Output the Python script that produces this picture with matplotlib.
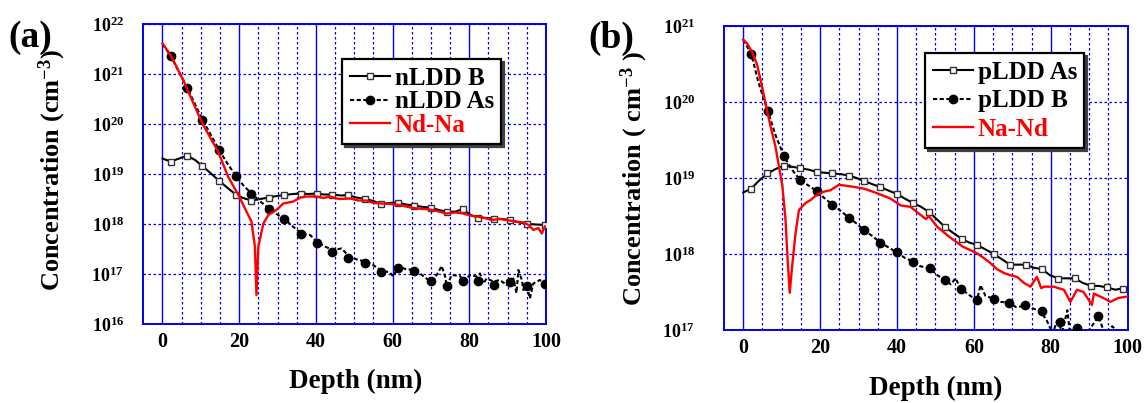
import numpy as np
import matplotlib
matplotlib.use("Agg")
import matplotlib.pyplot as plt
from matplotlib.lines import Line2D
from matplotlib.ticker import FixedLocator, FuncFormatter, NullLocator

# ---------------- data (log10 of concentration in cm^-3, depth in nm) ----------------
# Panel (a)
a_mk_depth = [2.1, 6.4, 10.4, 14.7, 19.1, 23.2, 27.8, 31.7, 36.2, 40.2, 44.3, 48.4,
              52.9, 56.9, 61.3, 65.6, 69.9, 74.3, 78.3, 82.3, 86.4, 90.6, 95.1, 99.7]
a_nB_mk_log = [19.25, 19.37, 19.16, 18.87, 18.59, 18.47, 18.53, 18.58, 18.61, 18.61, 18.59, 18.58,
               18.50, 18.40, 18.43, 18.37, 18.33, 18.24, 18.30, 18.13, 18.11, 18.08, 18.00, 17.98]
a_nAs_mk_log = [21.37, 20.73, 20.09, 19.49, 18.97, 18.61, 18.31, 18.11, 17.81, 17.63, 17.45, 17.33,
                17.23, 17.05, 17.13, 17.07, 16.85, 16.77, 16.85, 16.86, 16.79, 16.84, 16.76, 16.80]

a_nB_depth = [0, 2.1, 4, 6.4, 8.5, 10.4, 12.5, 14.7, 17, 19.1, 21, 23.2, 25.5, 27.8, 29.7, 31.7,
              34, 36.2, 38, 40.2, 42, 44.3, 46.5, 48.4, 50.5, 52.9, 55, 56.9, 59, 61.3, 63.5,
              65.6, 68, 69.9, 72, 74.3, 76.5, 78.3, 80.3, 82.3, 84.5, 86.4, 88.5, 90.6, 93,
              95.1, 97.5, 99.7]
a_nB_log = [19.31, 19.25, 19.30, 19.37, 19.28, 19.16, 19.02, 18.87, 18.72, 18.59, 18.52, 18.47,
            18.50, 18.53, 18.56, 18.58, 18.60, 18.61, 18.60, 18.61, 18.59, 18.59, 18.57, 18.58,
            18.53, 18.50, 18.46, 18.40, 18.42, 18.43, 18.39, 18.37, 18.34, 18.33, 18.28, 18.24,
            18.25, 18.30, 18.18, 18.13, 18.12, 18.11, 18.10, 18.08, 18.03, 18.00, 17.99, 17.98]

a_nAs_depth = [0, 2.1, 6.4, 10.4, 14.7, 17, 19.1, 21, 23.2, 25.5, 27.8, 29.7, 31.7, 34, 36.2,
               38.5, 40.2, 42.3, 44.5, 46.7, 48.7, 51.0, 53.2, 54.9, 57.1, 59.3, 60.2, 61.5,
               63.7, 65.9, 67.6, 69.9, 71.5, 72.8, 73.7, 74.1, 75.4, 77.6, 78.4, 80.2, 81.9,
               82.8, 83.7, 84.5, 86.3, 88.0, 89.7, 91.5, 92.3, 92.8, 93.7, 94.1, 95.1, 95.8,
               96.7, 98.4, 99.7]
a_nAs_log = [21.60, 21.37, 20.73, 20.09, 19.49, 19.20, 18.97, 18.78, 18.61, 18.45, 18.31, 18.20,
             18.11, 17.95, 17.81, 17.78, 17.65, 17.55, 17.48, 17.51, 17.35, 17.28, 17.25, 17.18,
             17.07, 17.03, 16.95, 17.15, 17.09, 17.09, 16.98, 16.85, 16.98, 17.16, 16.95, 16.75,
             16.98, 16.96, 16.85, 16.98, 16.95, 17.01, 16.81, 16.91, 16.85, 16.88, 16.78, 16.91,
             16.62, 17.08, 16.88, 16.68, 16.76, 16.51, 16.81, 16.88, 16.80]

a_net_depth = [0, 2.1, 5.4, 10.4, 14.5, 17.1, 20.0, 21.7, 23.2, 24.1, 24.5, 25.0, 26.3, 27.6,
               29.7, 31.5, 34.1, 36.0, 37.6, 40.2, 42, 43.7, 46, 48.9, 51, 53.2, 55, 57.1, 59.5,
               61.9, 64, 66.3, 68.5, 70.6, 72.5, 74.1, 76.5, 78.4, 80.2, 81.9, 84, 85.8, 88,
               89.7, 92, 94.1, 95.5, 96.7, 98, 98.9, 99.7]
a_net_log = [21.61, 21.38, 20.88, 20.01, 19.45, 18.95, 18.55, 18.28, 18.05, 17.55, 16.58, 17.55,
             18.01, 18.18, 18.28, 18.41, 18.45, 18.53, 18.55, 18.55, 18.52, 18.55, 18.50, 18.51,
             18.47, 18.47, 18.42, 18.41, 18.40, 18.38, 18.34, 18.31, 18.30, 18.28, 18.24, 18.21,
             18.23, 18.21, 18.17, 18.15, 18.12, 18.08, 18.10, 18.08, 18.05, 18.03, 17.98, 17.88,
             17.92, 17.81, 17.95]

# Panel (b)
b_pAs_mk_depth = [2.1, 6.3, 10.5, 14.7, 19.1, 23.2, 27.6, 31.5, 35.7, 40.0, 44.2, 48.4,
                  52.6, 56.8, 60.8, 65.2, 69.4, 73.6, 77.7, 81.9, 86.2, 90.5, 94.6, 98.9]
b_pAs_mk_log = [18.86, 19.06, 19.16, 19.13, 19.08, 19.06, 19.03, 18.96, 18.88, 18.79, 18.67, 18.55,
                18.35, 18.20, 18.12, 18.00, 17.86, 17.86, 17.80, 17.67, 17.68, 17.58, 17.56, 17.54]
b_pB_mk_depth = [2.1, 6.4, 10.6, 14.7, 19.1, 23.2, 27.5, 31.5, 35.7, 40.0, 44.2, 48.5,
                 52.6, 56.7, 60.8, 65.2, 69.1, 73.4, 77.8, 82.3, 86.8, 92.4]
b_pB_mk_log = [20.63, 19.88, 19.29, 18.98, 18.83, 18.65, 18.48, 18.31, 18.15, 18.02, 17.90, 17.81,
               17.66, 17.54, 17.39, 17.41, 17.36, 17.33, 17.25, 17.11, 17.02, 17.18]

b_pAs_depth = [0, 2.1, 4, 6.3, 8.5, 10.5, 12.5, 14.7, 17, 19.1, 21, 23.2, 25.5, 27.6, 29.5,
               31.5, 33.5, 35.7, 38, 40.0, 42, 44.2, 46.3, 48.4, 50.5, 52.6, 54.8, 56.8, 58.8,
               60.8, 63, 65.2, 67.3, 69.4, 71.5, 73.6, 75.5, 77.7, 79.8, 81.9, 84, 86.2, 88.3,
               90.5, 92.5, 94.6, 96.8, 98.9, 100]
b_pAs_log = [18.81, 18.86, 18.96, 19.06, 19.12, 19.16, 19.15, 19.13, 19.11, 19.08, 19.07, 19.06,
             19.05, 19.03, 19.00, 18.96, 18.92, 18.88, 18.83, 18.79, 18.73, 18.67, 18.62, 18.55,
             18.45, 18.35, 18.27, 18.20, 18.15, 18.12, 18.06, 18.00, 17.93, 17.86, 17.86, 17.86,
             17.82, 17.80, 17.72, 17.68, 17.68, 17.68, 17.62, 17.58, 17.58, 17.56, 17.53, 17.55,
             17.55]

b_pB_depth = [0, 2.1, 4, 6.4, 8.5, 10.6, 12.5, 14.7, 17, 19.1, 21, 23.2, 25.5, 27.5, 29.5,
              31.5, 33.5, 35.7, 38, 40.0, 42, 44.2, 46, 48.5, 50.5, 52.6, 54, 55.2, 56.7, 58.5,
              60.8, 61.7, 63, 65.2, 67, 69.1, 71, 73.4, 75.5, 77.3, 79, 80.5, 81.6, 83, 84.3,
              85, 86.8, 88.5, 90, 92.4, 94, 96, 97.7]
b_pB_log = [20.82, 20.63, 20.25, 19.88, 19.55, 19.29, 19.12, 18.98, 18.90, 18.83, 18.74, 18.65,
            18.56, 18.48, 18.40, 18.31, 18.24, 18.15, 18.08, 18.02, 17.95, 17.90, 17.84, 17.81,
            17.72, 17.66, 17.60, 17.68, 17.54, 17.47, 17.39, 17.59, 17.45, 17.41, 17.37, 17.36,
            17.30, 17.32, 17.28, 17.25, 17.12, 16.95, 17.12, 16.98, 17.26, 16.95, 17.02, 16.90,
            17.00, 17.18, 16.95, 17.05, 16.95]

b_net_depth = [0, 1.0, 2.3, 3.6, 4.9, 5.8, 7.1, 8.4, 9.3, 10.2, 11.0, 11.6, 12.1, 12.7, 13.6,
               14.5, 16.2, 17.5, 19.2, 21.0, 22.7, 24.9, 27.9, 31.4, 34.8, 38.3, 40.9, 43.5,
               46.0, 47.5, 48.3, 50.4, 53.5, 57.0, 60.8, 62.5, 64.3, 66, 67.8, 69.5, 71.2, 73,
               74.7, 76.4, 77.5, 78.2, 80.8, 82, 83.4, 85.1, 86.8, 88.5, 90.7, 91.2, 93.7,
               95.5, 97.5, 99.8]
b_net_log = [20.82, 20.77, 20.66, 20.49, 20.20, 19.98, 19.68, 19.41, 19.15, 18.89, 18.45, 17.88,
             17.49, 17.83, 18.27, 18.58, 18.67, 18.71, 18.78, 18.82, 18.84, 18.91, 18.89, 18.86,
             18.80, 18.73, 18.64, 18.62, 18.52, 18.46, 18.50, 18.36, 18.23, 18.10, 18.01, 17.95,
             17.88, 17.80, 17.75, 17.72, 17.70, 17.62, 17.57, 17.70, 17.55, 17.57, 17.57, 17.55,
             17.53, 17.37, 17.53, 17.50, 17.33, 17.48, 17.42, 17.37, 17.42, 17.44]

x_major = [0, 20, 40, 60, 80, 100]
x_minor = [5, 10, 15, 25, 30, 35, 45, 50, 55, 65, 70, 75, 85, 90, 95]
labels_a = ["nLDD B", "nLDD As", "Nd-Na"]
labels_b = ["pLDD As", "pLDD B", "Na-Nd"]

# ---------------- style ----------------
plt.rcParams['font.family'] = ['Liberation Serif', 'DejaVu Serif']
plt.rcParams['font.weight'] = 'bold'
plt.rcParams['axes.labelweight'] = 'bold'
plt.rcParams['mathtext.fontset'] = 'custom'
plt.rcParams['mathtext.rm'] = 'Liberation Serif:bold'
plt.rcParams['mathtext.bf'] = 'Liberation Serif:bold'
plt.rcParams['mathtext.it'] = 'Liberation Serif:bold:italic'

BLUE = '#0000ee'
RED = '#ff0000'
W, H = 1148, 403

fig = plt.figure(figsize=(W / 100, H / 100), dpi=100)


def rect(l, t, r, b):
    return [l / W, 1 - b / H, (r - l) / W, (b - t) / H]


axA = fig.add_axes(rect(143.3, 24, 546, 324))
axB = fig.add_axes(rect(724, 26, 1127.7, 330))


def style(ax, emin, emax, ypad):
    ax.set_yscale('log')
    ax.set_xlim(-5, 100)
    ax.set_ylim(10.0 ** emin, 10.0 ** emax)
    for s in ax.spines.values():
        s.set_color(BLUE)
        s.set_linewidth(1.4)
    ax.xaxis.set_major_locator(FixedLocator(x_major))
    ax.xaxis.set_minor_locator(FixedLocator(x_minor))
    ax.yaxis.set_major_locator(FixedLocator([10.0 ** e for e in range(emin, emax + 1)]))
    ax.yaxis.set_minor_locator(NullLocator())
    ax.yaxis.set_major_formatter(
        FuncFormatter(lambda v, p: r'$\mathbf{10^{%d}}$' % int(round(np.log10(v)))))
    ax.tick_params(axis='both', which='both', length=0)
    ax.tick_params(axis='x', labelsize=14.5, pad=6)
    ax.tick_params(axis='y', labelsize=13, pad=ypad)
    for t in ax.get_xticklabels():
        t.set_fontweight('bold')
    ax.grid(which='major', axis='x', color=BLUE, lw=1.0, ls='-')
    ax.grid(which='minor', axis='x', color=BLUE, lw=0.9, ls=(0, (2, 2)))
    ax.grid(which='major', axis='y', color=BLUE, lw=0.9, ls=(0, (2, 2)))
    ax.set_axisbelow(True)


def L(v):
    return 10.0 ** np.asarray(v)


def draw(ax, solid_d, solid_v, solid_mk_d, solid_mk_v,
         dot_d, dot_v, dot_mk_d, dot_mk_v, red_d, red_v, labels, leg_xy, lspace):
    ax.plot(dot_d, L(dot_v), color='k', lw=1.5, ls=(0, (2, 1.2)), zorder=3)
    ax.plot(dot_mk_d, L(dot_mk_v), ls='none', marker='o', ms=6, color='k', zorder=4)
    ax.plot(solid_d, L(solid_v), color='k', lw=1.5, zorder=3)
    ax.plot(solid_mk_d, L(solid_mk_v), ls='none', marker='s', ms=5, mfc='white',
            mec='#333333', mew=1.0, zorder=4)
    ax.plot(red_d, L(red_v), color=RED, lw=1.7, zorder=5)
    handles = [
        Line2D([], [], color='k', lw=1.5, marker='s', ms=5, mfc='white', mec='#333333'),
        Line2D([], [], color='k', lw=1.5, ls=(0, (2, 1.2)), marker='o', ms=6),
        Line2D([], [], color=RED, lw=1.7),
    ]
    leg = ax.legend(handles, labels, loc='upper left', bbox_to_anchor=leg_xy,
                    borderaxespad=0, prop={'size': 18, 'weight': 'bold'},
                    handlelength=1.6, handletextpad=0.2,
                    labelspacing=lspace, borderpad=0.3, fancybox=False, framealpha=1,
                    edgecolor='k', shadow={'color': '0.25', 'alpha': 1.0})
    leg.get_frame().set_linewidth(1.6)
    leg.set_zorder(10)
    for t, c in zip(leg.get_texts(), ['k', 'k', RED]):
        t.set_color(c)


style(axA, 16, 22, 14)
style(axB, 17, 21, 21)

draw(axA, a_nB_depth, a_nB_log, a_mk_depth, a_nB_mk_log,
     a_nAs_depth, a_nAs_log, a_mk_depth, a_nAs_mk_log,
     a_net_depth, a_net_log, labels_a, (0.494, 0.882), 0.02)
draw(axB, b_pAs_depth, b_pAs_log, b_pAs_mk_depth, b_pAs_mk_log,
     b_pB_depth, b_pB_log, b_pB_mk_depth, b_pB_mk_log,
     b_net_depth, b_net_log, labels_b, (0.498, 0.910), 0.22)

for ax, yl, lx, ly, xx, xy in [
        (axA, 'Concentration (cm$^{-3}$)', -0.227, 0.513, 0.527, -0.193),
        (axB, 'Concentration ( cm$^{-3}$ )', -0.223, 0.497, 0.525, -0.191)]:
    ax.set_ylabel(yl, fontsize=19, fontweight='bold', va='center')
    ax.yaxis.set_label_coords(lx, ly)
    ax.set_xlabel('Depth (nm)', fontsize=19.5, fontweight='bold', va='center')
    ax.xaxis.set_label_coords(xx, xy)

fig.text(30 / W, 1 - 37.5 / H, '(a)', fontsize=27, weight='bold', ha='center', va='center')
fig.text(611 / W, 1 - 38.5 / H, '(b)', fontsize=27, weight='bold', ha='center', va='center')

fig.savefig('out.png', dpi=100)
